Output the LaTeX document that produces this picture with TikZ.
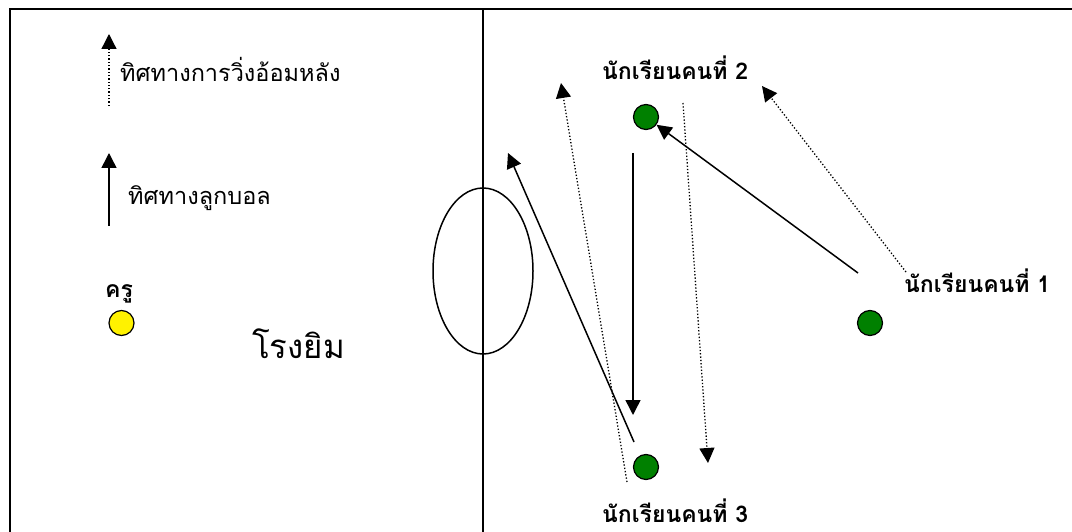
\documentclass[tikz,border=0pt]{standalone}
\usepackage{fontspec}
\usetikzlibrary{arrows.meta,shapes.geometric}
\newfontfamily\thai[Script=Thai]{Loma}
\newfontfamily\thaib[Script=Thai]{Loma}
\tikzset{
  px/.style={x=1pt,y=-1pt},
  stud/.style={circle,draw=black,line width=1.2pt,fill=green!50!black,minimum size=25pt,inner sep=0pt},
  teach/.style={circle,draw=black,line width=1.2pt,fill=yellow,minimum size=25pt,inner sep=0pt},
  ball/.style={line width=1.5pt,-{Triangle[length=15pt,width=15pt]}},
  run/.style={line width=1.3pt,dotted,-{Triangle[length=15pt,width=15pt]}},
  lbl/.style={font=\thai\fontsize{23.5}{23.5}\selectfont,anchor=base west,inner sep=0pt},
  blbl/.style={font=\thaib\bfseries\fontsize{23}{23}\selectfont,anchor=base west,inner sep=0pt},
}
\begin{document}
\begin{tikzpicture}[px]
\useasboundingbox (0,0) rectangle (1072,532);
% court
\draw[line width=2.5pt] (10,540) -- (10,9) -- (1080,9);
\draw[line width=1.5pt] (483,9) -- (483,540);
\node[ellipse,draw,line width=1.5pt,minimum width=100pt,minimum height=166pt,inner sep=0pt] (circ) at (483,271) {};
% legend
\coordinate (l1a) at (109,106); \coordinate (l1b) at (109,34);
\coordinate (l2a) at (109,226); \coordinate (l2b) at (109,153);
\draw[run] (l1a) -- (l1b);
\draw[ball] (l2a) -- (l2b);
\node[lbl] (t1) at (120,82) {ทิศทางการวิ่งอ้อมหลัง};
\node[lbl] (t2) at (128,205) {ทิศทางลูกบอล};
% teacher
\node[blbl] (kru) at (105,298) {ครู};
\node[teach] (teacher) at (121.5,323) {};
\node[font=\thai\fontsize{33}{33}\selectfont,anchor=base west,inner sep=0pt] (gym) at (252,358) {โรงยิม};
% students
\node[stud] (s1) at (870,323) {};
\node[stud] (s2) at (646,117) {};
\node[stud] (s3) at (646,467) {};
\node[blbl] (n1) at (904,292) {นักเรียนคนที่ 1};
\node[blbl] (n2) at (602,80) {นักเรียนคนที่ 2};
\node[blbl,text depth=0pt] (n3) at (602,522) {นักเรียนคนที่ 3};
% ball paths
\coordinate (a1) at (858,273);
\draw[ball] (a1) -- (s2);
\coordinate (a2s) at (633,153); \coordinate (a2e) at (633,415);
\draw[ball] (a2s) -- (a2e);
\coordinate (a3s) at (634,442); \coordinate (a3e) at (508,153);
\draw[ball] (a3s) -- (a3e);
% runs
\coordinate (r1s) at (906,272); \coordinate (r1e) at (762,86);
\draw[run] (r1s) -- (r1e);
\coordinate (r2s) at (627,482); \coordinate (r2e) at (561,83);
\draw[run] (r2s) -- (r2e);
\coordinate (r3s) at (683,103); \coordinate (r3e) at (708,463);
\draw[run] (r3s) -- (r3e);
\end{tikzpicture}
\end{document}
